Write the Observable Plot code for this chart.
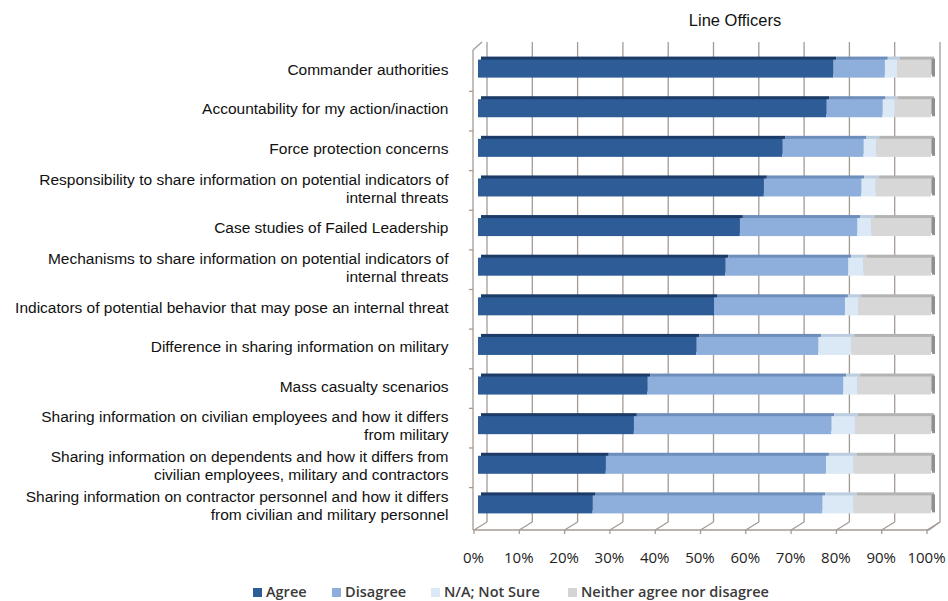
<!DOCTYPE html>
<html><head><meta charset="utf-8">
<script src="https://cdn.jsdelivr.net/npm/d3@7"></script>
<script src="https://cdn.jsdelivr.net/npm/@observablehq/plot@0.6"></script>
<style>
html,body{margin:0;padding:0;background:#fff;}
body{width:948px;height:601px;position:relative;overflow:hidden;font-family:"Liberation Sans",Arial,sans-serif;}
#title{position:absolute;left:735px;top:11px;transform:translateX(-50%);font-size:16.5px;color:#111;white-space:nowrap;}
#chart{position:absolute;left:0;top:30px;}
.lg{position:absolute;top:583px;font-family:"Open Sans",sans-serif;font-size:14.5px;font-weight:600;color:#3a3a3a;white-space:nowrap;line-height:18px;}
.lg i{display:inline-block;width:9px;height:9px;margin-right:4px;vertical-align:0px;}
</style></head><body>
<div id="title">Line Officers</div>
<div id="chart"></div>
<div id="legend"></div>
<script>
const categories = [
  "Commander authorities",
  "Accountability for my action/inaction",
  "Force protection concerns",
  "Responsibility to share information on potential indicators of internal threats",
  "Case studies of Failed Leadership",
  "Mechanisms to share information on potential indicators of internal threats",
  "Indicators of potential behavior that may pose an internal threat",
  "Difference in sharing information on military",
  "Mass casualty scenarios",
  "Sharing information on civilian employees and how it differs from military",
  "Sharing information on dependents and how it differs from civilian employees, military and contractors",
  "Sharing information on contractor personnel and how it differs from civilian and military personnel"
];
const categoryLabels = [
  "Commander authorities",
  "Accountability for my action/inaction",
  "Force protection concerns",
  "Responsibility to share information on potential indicators of\ninternal threats",
  "Case studies of Failed Leadership",
  "Mechanisms to share information on potential indicators of\ninternal threats",
  "Indicators of potential behavior that may pose an internal threat",
  "Difference in sharing information on military",
  "Mass casualty scenarios",
  "Sharing information on civilian employees and how it differs\nfrom military",
  "Sharing information on dependents and how it differs from\ncivilian employees, military and contractors",
  "Sharing information on contractor personnel and how it differs\nfrom civilian and military personnel"
];
const series = ["Agree", "Disagree", "N/A; Not Sure", "Neither agree nor disagree"];
const agree    = [78.4, 76.9, 67.2, 63.1, 57.8, 54.6, 52.1, 48.2, 37.4, 34.4, 28.2, 25.3];
const disagree = [11.4, 12.4, 17.9, 21.5, 25.9, 27.1, 28.9, 26.9, 43.2, 43.6, 48.6, 50.7];
const notSure  = [2.7, 2.7, 2.8, 3.2, 3.1, 3.4, 2.9, 7.3, 3.1, 5.2, 6.1, 6.9];
const neither  = [7.5, 8.0, 12.1, 12.2, 13.2, 14.9, 16.1, 17.6, 16.3, 16.8, 17.1, 17.1];
const xTicks = [0, 10, 20, 30, 40, 50, 60, 70, 80, 90, 100];
const colors = ["#2d5c97", "#8eafdb", "#dbe8f5", "#d7d7d7"];
const topColors = ["#1c3b66", "#6d8dba", "#bccde0", "#b3b3b3"];
const legendSwatch = ["#2d5c97", "#8eafdb", "#dbe8f5", "#d4d4d4"];

const seriesValues = [agree, disagree, notSure, neither];
const rows = [];
categories.forEach((c, i) => {
  let cum = 0;
  series.forEach((s, j) => {
    const v = seriesValues[j][i];
    rows.push({cat: c, series: s, value: v, x1: cum, x2: cum + v});
    cum += v;
  });
});

const BACK_DX = 9, BACK_DY = -8;

function walls(index, scales, values, dimensions) {
  const {x, y} = scales;
  const {height, marginBottom, marginTop} = dimensions;
  const g = d3.create("svg:g").attr("stroke", "#a59a92").attr("fill", "none").attr("stroke-width", 1.3);
  const floorFront = height - marginBottom - 5;
  const floorBack = floorFront + BACK_DY;
  const top = marginTop + 4;
  const x0 = x(0) - 5;
  for (const t of xTicks) {
    g.append("line").attr("x1", x(t) + BACK_DX).attr("x2", x(t) + BACK_DX)
      .attr("y1", top).attr("y2", floorBack);
  }
  g.append("line").attr("x1", x0).attr("x2", x0).attr("y1", top - BACK_DY).attr("y2", floorFront);
  g.append("line").attr("x1", x0).attr("x2", x0 + BACK_DX).attr("y1", top - BACK_DY).attr("y2", top);
  g.append("line").attr("x1", x0).attr("x2", x(100) - 2).attr("y1", floorFront).attr("y2", floorFront);
  g.append("line").attr("x1", x(100) - 2).attr("x2", x(100) + BACK_DX).attr("y1", floorFront).attr("y2", floorBack);
  for (const t of xTicks) {
    g.append("line").attr("x1", x(t) - 4).attr("x2", x(t) + BACK_DX)
      .attr("y1", floorFront).attr("y2", floorBack);
    g.append("line").attr("x1", x(t) - 4).attr("x2", x(t) - 4)
      .attr("y1", floorFront).attr("y2", floorFront + 4);
  }
  const step = y.step();
  categories.forEach((c, i) => {
    if (i === 0) return;
    const yy = y(c) - step * y.paddingInner() / 2 + 3;
    g.append("line").attr("x1", x0 - 4).attr("x2", x0).attr("y1", yy).attr("y2", yy);
  });
  return g.node();
}

const marks = [walls];
series.forEach((s, j) => {
  marks.push(Plot.barX(rows.filter(r => r.series === s), {
    x1: "x1", x2: "x2", y: "cat", fill: topColors[j], dx: 3, dy: -3
  }));
});
marks.push(Plot.barX(rows, {x1: "x1", x2: "x2", y: "cat", fill: "series"}));
marks.push(Plot.tickX(categories, {x: () => 100, y: d => d, stroke: "#8f8f8f", strokeWidth: 3, dx: 2, dy: -1}));
marks.push(Plot.text(categories, {
  y: d => d, text: (d, i) => categoryLabels[i], frameAnchor: "left", textAnchor: "end",
  dx: -30, dy: 0, fontSize: 15.5, lineHeight: 1.16, fill: "#111"
}));
marks.push(Plot.text(xTicks, {
  x: d => d, text: d => d + "%", frameAnchor: "bottom", dy: 27, dx: -5,
  fontSize: 15, fill: "#222", fontFamily: "Open Sans, sans-serif"
}));

const chart = Plot.plot({
  width: 948, height: 540,
  marginLeft: 478, marginRight: 17, marginTop: 8, marginBottom: 35,
  x: {domain: [0, 100], axis: null},
  y: {domain: categories, padding: 0.545, round: false, axis: null},
  color: {domain: series, range: colors},
  style: {fontFamily: "Liberation Sans, Arial, sans-serif", background: "white", overflow: "visible"},
  marks
});
document.getElementById("chart").appendChild(chart);

const legendPos = [253, 332, 431, 568];
const legend = document.getElementById("legend");
series.forEach((s, j) => {
  const d = document.createElement("div");
  d.className = "lg";
  d.style.left = legendPos[j] + "px";
  const sw = document.createElement("i");
  sw.style.background = legendSwatch[j];
  d.appendChild(sw);
  d.appendChild(document.createTextNode(s));
  legend.appendChild(d);
});
</script>
</body></html>
